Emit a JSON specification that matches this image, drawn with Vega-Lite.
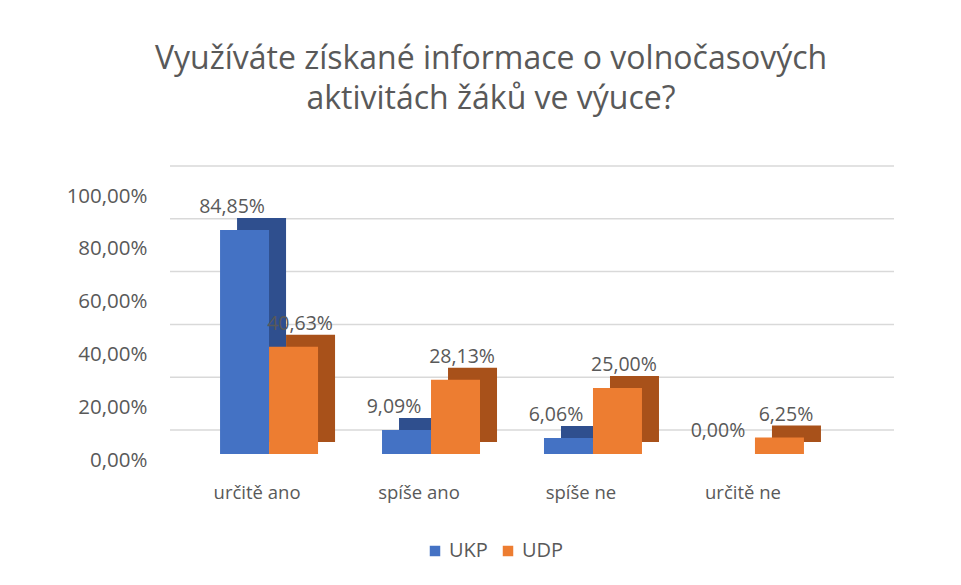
{
  "$schema": "https://vega.github.io/schema/vega-lite/v6.json",
  "width": 684,
  "height": 264,
  "autosize": {"type": "none"},
  "padding": {"left": 170, "top": 190, "right": 107, "bottom": 131},
  "background": "white",
  "config": {
    "locale": {"number": {"decimal": ",", "thousands": " ", "grouping": [3], "currency": ["", " Kč"]}},
    "view": {"stroke": null},
    "font": "Open Sans"
  },
  "title": {
    "text": ["Využíváte získané informace o volnočasových", "aktivitách žáků ve výuce?"],
    "fontSize": 32,
    "font": "Open Sans",
    "fontWeight": "normal",
    "color": "#595959",
    "anchor": "middle",
    "dx": -21,
    "offset": 49,
    "lineHeight": 40
  },
  "datasets": {
    "bars": [
      {"odpoved": "určitě ano", "skupina": "UKP", "podil": 0.8485},
      {"odpoved": "určitě ano", "skupina": "UDP", "podil": 0.4063},
      {"odpoved": "spíše ano", "skupina": "UKP", "podil": 0.0909},
      {"odpoved": "spíše ano", "skupina": "UDP", "podil": 0.2813},
      {"odpoved": "spíše ne", "skupina": "UKP", "podil": 0.0606},
      {"odpoved": "spíše ne", "skupina": "UDP", "podil": 0.25},
      {"odpoved": "určitě ne", "skupina": "UKP", "podil": 0.0},
      {"odpoved": "určitě ne", "skupina": "UDP", "podil": 0.0625}
    ],
    "grid": [{"v": 0}, {"v": 0.2}, {"v": 0.4}, {"v": 0.6}, {"v": 0.8}, {"v": 1.0}]
  },
  "layer": [
    {
      "data": {"name": "grid"},
      "mark": {"type": "rule", "color": "#D9D9D9", "strokeWidth": 1.5, "yOffset": -24, "xOffset": 40, "x2Offset": 52},
      "encoding": {
        "y": {
          "field": "v", "type": "quantitative",
          "scale": {"domain": [0, 1], "nice": false},
          "axis": {
            "values": [0, 0.2, 0.4, 0.6, 0.8, 1.0],
            "format": ".2%",
            "grid": false, "domain": false, "ticks": false,
            "labelFontSize": 20.5, "labelColor": "#595959",
            "labelPadding": 23, "labelOffset": 6, "title": null
          }
        }
      }
    },
    {
      "data": {"name": "bars"},
      "mark": {"type": "bar", "yOffset": -12},
      "encoding": {
        "x": {"field": "odpoved", "type": "nominal", "sort": ["určitě ano", "spíše ano", "spíše ne", "určitě ne"],
              "scale": {"paddingInner": 0.395, "paddingOuter": 0.309},
              "axis": {"labelAngle": 0, "domain": false, "ticks": false, "labelFontSize": 18.5, "labelColor": "#595959", "labelPadding": 29, "labelOffset": -12, "title": null}},
        "xOffset": {"field": "skupina", "type": "nominal", "sort": ["UKP", "UDP"], "scale": {"range": [17, 115], "paddingInner": 0, "paddingOuter": 0}},
        "y": {"field": "podil", "type": "quantitative"},
        "color": {"field": "skupina", "type": "nominal", "scale": {"domain": ["UKP", "UDP"], "range": ["#2F4F8E", "#A8511A"]}, "legend": null}
      }
    },
    {
      "data": {"name": "bars"},
      "mark": {"type": "bar"},
      "encoding": {
        "x": {"field": "odpoved", "type": "nominal", "sort": ["určitě ano", "spíše ano", "spíše ne", "určitě ne"]},
        "xOffset": {"field": "skupina", "type": "nominal", "sort": ["UKP", "UDP"]},
        "y": {"field": "podil", "type": "quantitative"},
        "color": {"field": "skupina", "type": "nominal",
                  "scale": {"domain": ["UKP", "UDP"], "range": ["#4472C4", "#ED7D31"]},
                  "legend": {"title": null, "orient": "none", "direction": "horizontal", "legendX": 255, "legendY": 351,
                             "symbolType": "square", "symbolSize": 110, "labelFontSize": 20, "labelColor": "#595959", "columnPadding": 10, "symbolStrokeWidth": 0}}
      }
    },
    {
      "data": {"name": "bars"},
      "mark": {"type": "text", "baseline": "bottom", "dy": -13, "fontSize": 19.5, "color": "#595959"},
      "encoding": {
        "x": {"field": "odpoved", "type": "nominal", "sort": ["určitě ano", "spíše ano", "spíše ne", "určitě ne"]},
        "xOffset": {"field": "skupina", "type": "nominal", "sort": ["UKP", "UDP"], "scale": {"range": [12, 80], "padding": 0}},
        "y": {"field": "podil", "type": "quantitative"},
        "text": {"field": "podil", "type": "quantitative", "format": ".2%"}
      }
    }
  ],
  "resolve": {"scale": {"color": "independent", "xOffset": "independent"}}
}
